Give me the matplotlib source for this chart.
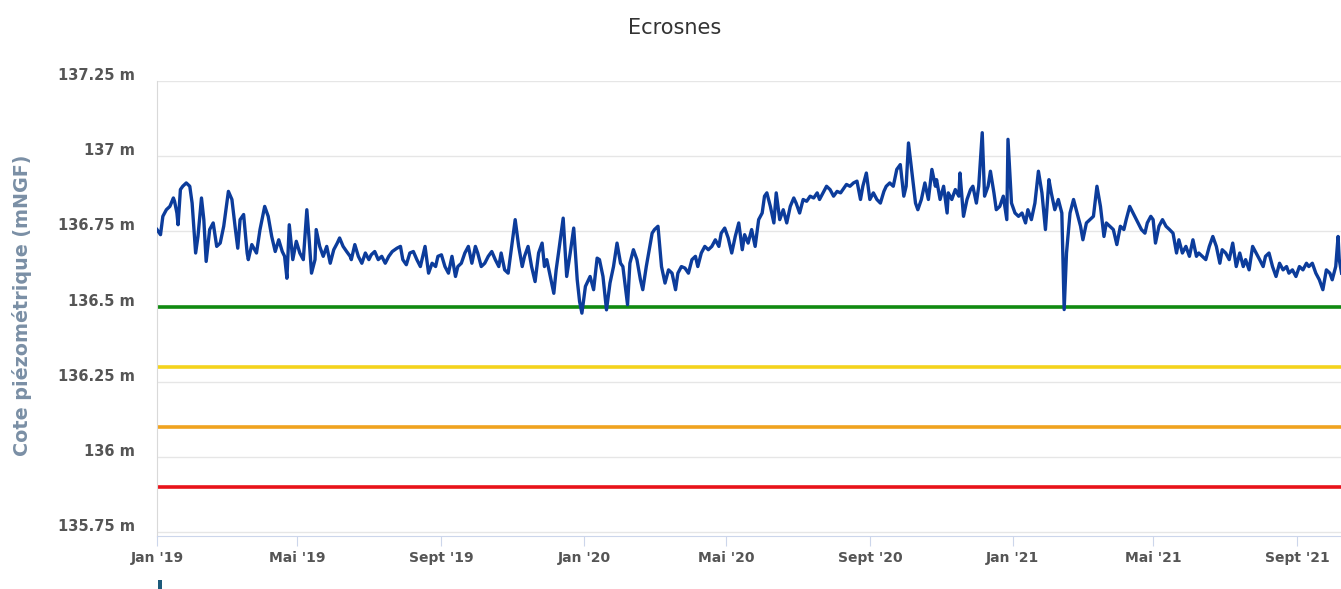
import pandas as pd
import matplotlib
matplotlib.use("Agg")
from matplotlib import pyplot as plt
from matplotlib import transforms
from matplotlib.patches import Rectangle

START = "2019-01-01"

# days since 1 Jan 2019
day_offset = [
    0, 3, 5, 8, 11, 14, 15, 17, 18, 20, 22, 25, 28, 30, 31, 33, 35, 38, 40, 42,
    45, 48, 51, 54, 57, 61, 64, 67, 69, 71, 74, 77, 78, 81, 85, 88, 92, 95, 98, 101,
    104, 107, 109, 111, 113, 116, 119, 122, 125, 128, 130, 132, 135, 136, 139, 142, 145, 148, 151, 154,
    156, 159, 162, 165,
    166, 169, 172, 175, 178, 181, 183, 186, 189, 192, 195, 198, 201,
    205, 208, 210, 213, 216, 219, 222, 225,
    229, 232, 235, 238, 240, 243, 246, 249, 252, 255, 257, 260, 263, 266, 269, 272, 274, 277, 280, 283,
    286, 289, 292, 294, 297, 300, 303, 306, 309, 312, 314, 317, 320, 323, 326, 329, 331,
    333, 336, 339, 341, 343, 347, 350, 353, 356, 359, 361, 363, 366, 370, 373, 376, 378, 381, 384, 387,
    390, 393, 396, 398, 402, 404, 407, 410, 413, 415, 418, 423, 425, 428, 431, 434, 437, 440, 443, 445,
    448, 451, 454, 457, 460, 462, 465, 468, 471, 474, 477, 480, 482, 485, 488, 491, 494, 497,
    500, 502, 505, 508, 511, 514, 517, 519, 521,
    524, 527, 529, 532, 535, 538, 541, 544, 546, 549, 552, 555, 558, 561, 564, 566, 569, 572, 575, 578,
    581, 584, 586, 589, 592, 595, 598, 601, 603, 606, 609, 612, 615, 618, 621, 623, 626, 629, 632, 635,
    638, 640, 642, 645, 648, 650, 653, 656, 659, 662, 665,
    666, 669, 672, 675, 676, 679, 682, 685, 686, 689, 692, 695, 697, 700, 702, 705, 707, 710, 712, 715,
    717, 720, 723, 726, 727, 730, 733, 736, 739, 742, 744, 747, 750, 753, 756, 759, 762, 764, 767, 770,
    773, 775, 777, 780, 783, 786, 789, 791, 794, 797, 800, 803, 806, 809, 811, 814, 817, 820, 823, 826,
    828, 831,
    841, 844, 846, 849, 851, 853, 856, 859, 862, 865, 868, 871, 873, 876, 879, 882, 885, 888, 890, 893,
    896, 899, 902, 905, 908, 910, 913, 916, 919, 922, 925, 928, 930, 933, 936, 939, 942, 945, 947, 950,
    953, 956, 959, 962, 965, 967, 970, 973, 976, 979, 982, 984, 987, 990, 993, 996, 999, 1002, 1004, 1007,
    1009, 1010, 1012,
]

# water level (m NGF)
level = [
    136.756, 136.739, 136.800, 136.822, 136.833, 136.861, 136.850, 136.811, 136.772, 136.889,
    136.900, 136.911, 136.900, 136.844, 136.789, 136.678, 136.733, 136.861, 136.789, 136.650,
    136.756, 136.778, 136.700, 136.711, 136.767, 136.883, 136.856, 136.756, 136.694, 136.789,
    136.806, 136.678, 136.656, 136.706, 136.678, 136.756, 136.833, 136.800, 136.733, 136.683,
    136.722, 136.683, 136.667, 136.594, 136.772, 136.656, 136.717, 136.678, 136.656, 136.822,
    136.722, 136.611, 136.656, 136.756, 136.700, 136.667, 136.700, 136.644, 136.689, 136.711,
    136.728, 136.700, 136.683, 136.667,
    136.656, 136.706, 136.667, 136.644, 136.678, 136.656, 136.672, 136.683, 136.656, 136.667,
    136.644, 136.667, 136.683,
    136.694, 136.700, 136.656, 136.639, 136.678, 136.683, 136.656, 136.633,
    136.700, 136.611, 136.644, 136.633, 136.667, 136.672, 136.633, 136.611, 136.667, 136.600,
    136.633, 136.644, 136.678, 136.700, 136.644, 136.700, 136.678, 136.633, 136.644, 136.667,
    136.683, 136.656, 136.633, 136.678, 136.622, 136.611, 136.700, 136.789, 136.700, 136.633,
    136.667, 136.700, 136.633, 136.583, 136.678, 136.711, 136.633,
    136.656, 136.600, 136.544, 136.622, 136.678, 136.794, 136.600, 136.678, 136.761, 136.589,
    136.517, 136.478, 136.567, 136.600, 136.556, 136.661, 136.656, 136.600, 136.489, 136.578,
    136.633, 136.711, 136.644, 136.633, 136.506, 136.644, 136.689, 136.656, 136.589, 136.556,
    136.633, 136.744, 136.756, 136.767, 136.633, 136.578, 136.622, 136.611, 136.556, 136.611,
    136.633, 136.628, 136.611, 136.656, 136.667, 136.633, 136.678, 136.700, 136.689, 136.700,
    136.722, 136.700, 136.744, 136.761, 136.728, 136.678, 136.733, 136.778,
    136.689, 136.739, 136.711, 136.756, 136.700, 136.789, 136.811, 136.867, 136.878,
    136.833, 136.778, 136.878, 136.789, 136.822, 136.778, 136.833, 136.861, 136.844, 136.811,
    136.856, 136.850, 136.867, 136.861, 136.878, 136.856, 136.878, 136.900, 136.889, 136.867,
    136.883, 136.878, 136.889, 136.906, 136.900, 136.911, 136.917, 136.856, 136.900, 136.944,
    136.856, 136.878, 136.856, 136.844, 136.883, 136.900, 136.911, 136.900, 136.956, 136.972,
    136.867, 136.900, 137.044, 136.944, 136.844, 136.822, 136.856, 136.911, 136.856, 136.956,
    136.900,
    136.922, 136.856, 136.900, 136.811, 136.878, 136.856, 136.889, 136.867, 136.944, 136.800,
    136.856, 136.889, 136.900, 136.844, 136.900, 137.078, 136.867, 136.900, 136.950, 136.878,
    136.822, 136.833, 136.867, 136.789, 137.056, 136.844, 136.811, 136.800, 136.811, 136.778,
    136.822, 136.789, 136.844, 136.950, 136.878, 136.756, 136.922, 136.878, 136.822, 136.856,
    136.811, 136.490, 136.678, 136.811, 136.856, 136.811, 136.767, 136.722, 136.778, 136.789,
    136.800, 136.900, 136.833, 136.733, 136.778, 136.767, 136.756, 136.706, 136.767, 136.756,
    136.789, 136.833,
    136.756, 136.744, 136.778, 136.800, 136.789, 136.711, 136.767, 136.789, 136.767, 136.756,
    136.744, 136.678, 136.722, 136.678, 136.700, 136.667, 136.722, 136.667, 136.678, 136.667,
    136.656, 136.700, 136.733, 136.700, 136.644, 136.689, 136.678, 136.656, 136.711, 136.633,
    136.678, 136.633, 136.656, 136.622, 136.700, 136.678, 136.656, 136.633, 136.667, 136.678,
    136.633, 136.600, 136.644, 136.622, 136.633, 136.611, 136.622, 136.600, 136.633, 136.622,
    136.644, 136.633, 136.644, 136.611, 136.589, 136.556, 136.622, 136.611, 136.589, 136.633,
    136.733, 136.656, 136.611,
]

# alert thresholds
threshold_levels = [136.5, 136.3, 136.1, 135.9]
threshold_colors = ["#118a11", "#f4d31c", "#f0a31f", "#e8131a"]

tick_dates = ["2019-01-01", "2019-05-01", "2019-09-01", "2020-01-01", "2020-05-01",
              "2020-09-01", "2021-01-01", "2021-05-01", "2021-09-01"]
tick_labels = ["Jan '19", "Mai '19", "Sept '19", "Jan '20", "Mai '20",
               "Sept '20", "Jan '21", "Mai '21", "Sept '21"]
y_ticks = [135.75, 136.0, 136.25, 136.5, 136.75, 137.0, 137.25]
y_tick_labels = ["135.75 m", "136 m", "136.25 m", "136.5 m", "136.75 m", "137 m", "137.25 m"]


def main():
    W, H = 1341, 589
    fig = plt.figure(figsize=(W / 100, H / 100), dpi=100)
    ax = fig.add_axes([157 / W, 53 / H, 1 - 157 / W, (536 - 81) / H])

    start = pd.Timestamp(START)
    dates = start + pd.to_timedelta(day_offset, unit="D")

    for lvl, col in zip(threshold_levels, threshold_colors):
        ax.axhline(lvl, color=col, lw=2.6, zorder=2)
    ax.plot(dates, level, color="#0c3c9b", lw=2.4, zorder=3, solid_joinstyle="round")

    ax.set_ylim(135.737, 137.25)
    ax.set_xlim(start, start + pd.Timedelta(days=1011.5))

    ax.set_yticks(y_ticks)
    ax.set_yticklabels(y_tick_labels)
    ax.set_xticks(pd.to_datetime(tick_dates))
    ax.set_xticklabels(tick_labels)

    ax.yaxis.grid(True, color="#e6e6e6", lw=1)
    ax.set_axisbelow(True)
    for s in ["top", "right"]:
        ax.spines[s].set_visible(False)
    ax.spines["left"].set_color("#d9d9d9")
    ax.spines["bottom"].set_color("#ccd6eb")

    ax.tick_params(axis="y", length=0, pad=16, labelsize=10.5, labelcolor="#555555")
    ax.tick_params(axis="x", length=7, color="#ccd6eb", pad=4, labelsize=10, labelcolor="#555555")
    for lbl in ax.get_xticklabels() + ax.get_yticklabels():
        lbl.set_fontweight("bold")
    # labels sit a bit above their grid line
    offset = transforms.ScaledTranslation(0, 7 / 100, fig.dpi_scale_trans)
    for lbl in ax.get_yticklabels():
        lbl.set_transform(lbl.get_transform() + offset)

    fig.text(675 / W, 1 - 28 / H, "Ecrosnes", ha="center", va="center", fontsize=15, color="#333333")
    fig.text(22 / W, 1 - 305 / H, "Cote piézométrique (mNGF)", rotation=90, ha="center", va="center",
             fontsize=13.8, fontweight="bold", color="#7a8fa5")

    fig.add_artist(Rectangle((158 / W, 0), 4 / W, 9 / H, transform=fig.transFigure,
                             color="#1d5a7a", lw=0))

    fig.savefig("out.png", dpi=100)


if __name__ == "__main__":
    main()
